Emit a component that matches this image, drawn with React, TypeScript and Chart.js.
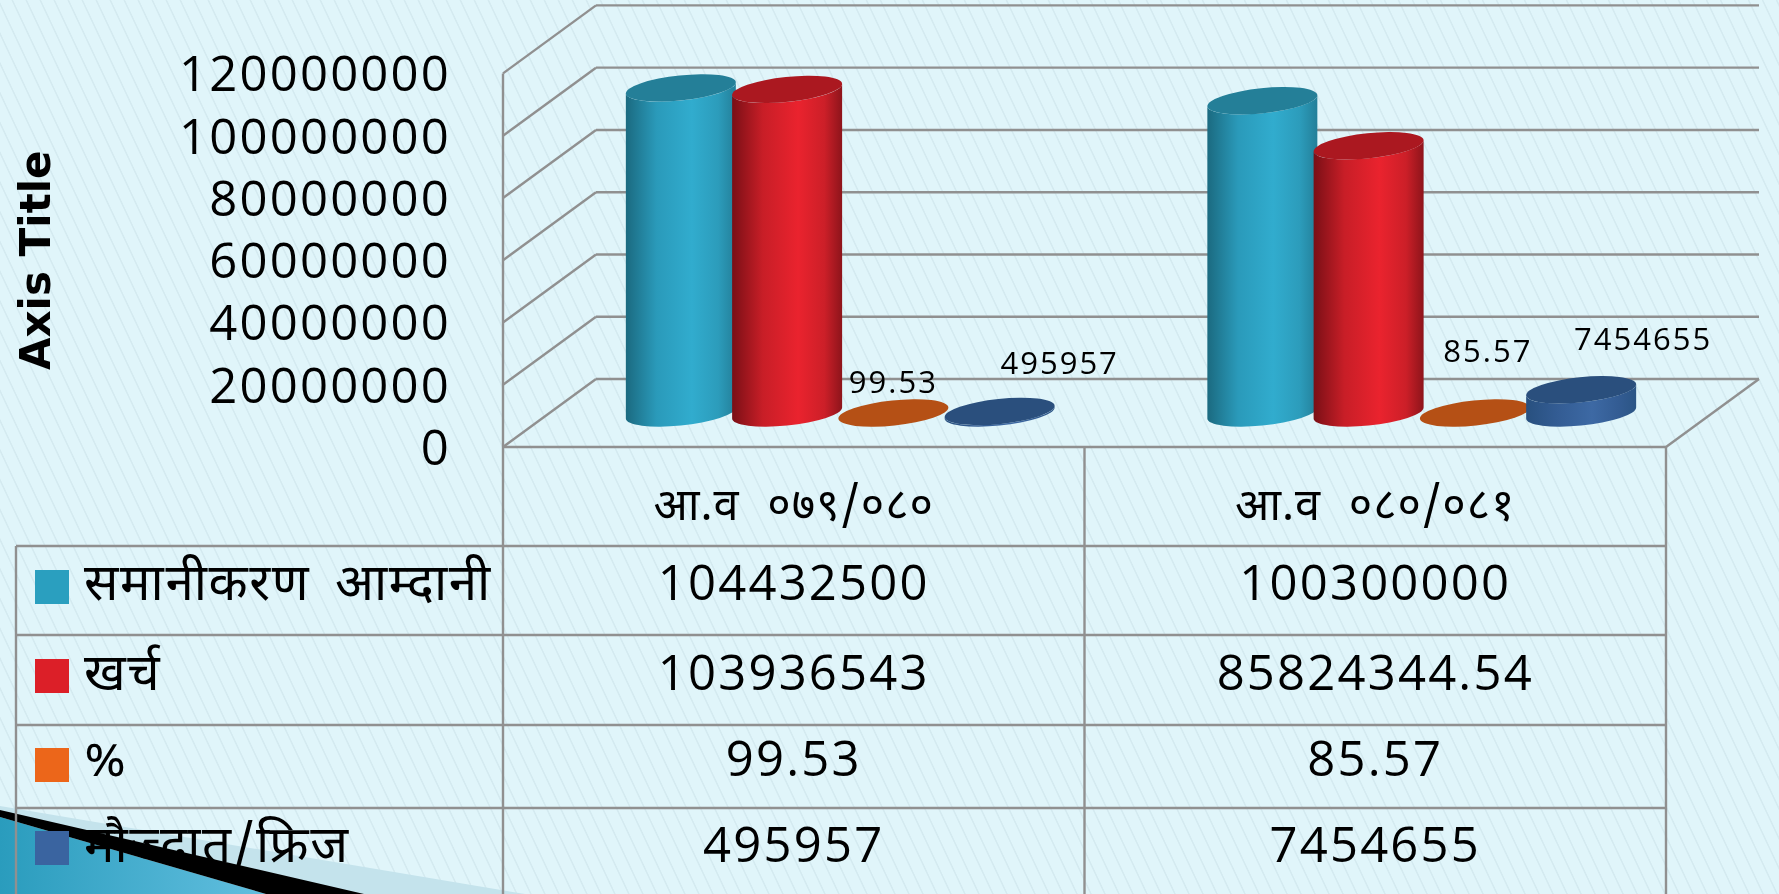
import React, { useEffect, useRef } from "react";
import { Chart, registerables } from "chart.js";

Chart.register(...registerables);

const categories = ["आ.व ०७९/०८०", "आ.व ०८०/०८१"];
const seriesNames = ["समानीकरण आम्दानी", "खर्च", "%", "मौज्दात/फ्रिज"];
const income = [104432500, 100300000];
const expense = [103936543, 85824344.54];
const percent = [99.53, 85.57];
const frozen = [495957, 7454655];
const allSeries = [income, expense, percent, frozen];
const swatchColors = ["#2a9fbf", "#dc1f28", "#ec661a", "#3a64a0"];

const TOKENS = [
  { stops: ["#1b6a80", "#2a9aba", "#31acce", "#2c9cbb", "#237f99"], cap: "#247f98" },
  { stops: ["#7a0f16", "#c81e27", "#ea232e", "#cc1f28", "#8d141b"], cap: "#ab1820" },
  { stops: ["#a84a13", "#b55015", "#b55015", "#b55015", "#a84a13"], cap: "#b55015" },
  { stops: ["#28507f", "#335c93", "#3d69a4", "#335c93", "#2b5585"], cap: "#2a4f7d" },
];

// manual label offsets, as placed in the source chart: [series][category] -> dx, dy from the top of the bar
const LABEL_NUDGE: Record<string, [number, number]> = {
  "2-0": [0, -29],
  "3-0": [60, -46],
  "2-1": [13, -60],
  "3-1": [62, -49],
};

const GRID = "#909090";
const DEPTH_X = 93;
const DEPTH_Y = 68;
const TILT = (6 * Math.PI) / 180;
const NUM_FONT = '"Open Sans", sans-serif';
const DEV_FONT = '"Noto Sans Devanagari", "Noto Sans", "Lohit Devanagari", "FreeSans", sans-serif';
const ROW_LINES = [546, 635, 725, 808];
const ROW_MID = [583, 673, 759, 845];
const SWATCH_TOP = [570, 659, 748, 831];
const HEAD_MID = 512;
const TABLE_LEFT = 16;

function line(ctx: CanvasRenderingContext2D, x1: number, y1: number, x2: number, y2: number) {
  ctx.beginPath();
  ctx.moveTo(x1, y1);
  ctx.lineTo(x2, y2);
  ctx.stroke();
}

function drawCylinder(
  ctx: CanvasRenderingContext2D,
  cx: number,
  topY: number,
  baseY: number,
  halfW: number,
  token: { stops: string[]; cap: string },
) {
  const ry = 12.5;
  const rx = Math.sqrt(Math.max(1, (halfW * halfW - ry * ry * Math.sin(TILT) ** 2) / Math.cos(TILT) ** 2));
  const ext = Math.atan2(-ry * Math.sin(-TILT), rx * Math.cos(TILT));
  if (baseY - topY > 1.5) {
    const g = ctx.createLinearGradient(cx - halfW, 0, cx + halfW, 0);
    [0, 0.28, 0.6, 0.84, 1].forEach((s, i) => g.addColorStop(s, token.stops[i]));
    ctx.fillStyle = g;
    ctx.beginPath();
    ctx.ellipse(cx, baseY, rx, ry, -TILT, ext, ext + Math.PI);
    ctx.ellipse(cx, topY, rx, ry, -TILT, ext + Math.PI, ext, true);
    ctx.closePath();
    ctx.fill();
  }
  ctx.fillStyle = token.cap;
  ctx.beginPath();
  ctx.ellipse(cx, topY, rx, ry, -TILT, 0, Math.PI * 2);
  ctx.fill();
}

const scenePlugin = {
  id: "scene",
  beforeDatasetsDraw(chart: any) {
    const ctx: CanvasRenderingContext2D = chart.ctx;
    const { left, right, bottom } = chart.chartArea;
    const y = chart.scales.y;
    ctx.save();
    ctx.strokeStyle = GRID;
    ctx.lineWidth = 2.4;
    y.ticks.forEach((t: any) => {
      const py = y.getPixelForValue(t.value);
      line(ctx, left, py, left + DEPTH_X, py - DEPTH_Y);
      line(ctx, left + DEPTH_X, py - DEPTH_Y, right + DEPTH_X, py - DEPTH_Y);
    });
    line(ctx, right, bottom, right + DEPTH_X, bottom - DEPTH_Y);
    line(ctx, left, y.getPixelForValue(y.max), left, bottom);
    ctx.restore();
  },
  beforeDatasetDraw() {
    return false;
  },
  afterDatasetsDraw(chart: any) {
    const ctx: CanvasRenderingContext2D = chart.ctx;
    const { left, right, bottom } = chart.chartArea;
    const xs = chart.scales.x;
    const H = chart.height;
    ctx.save();
    allSeries.forEach((_, si) => {
      chart.getDatasetMeta(si).data.forEach((el: any) => {
        const cx = el.x + DEPTH_X / 2;
        drawCylinder(ctx, cx, el.y - DEPTH_Y / 2, el.base - DEPTH_Y / 2, el.width / 2, TOKENS[si]);
      });
    });
    ctx.fillStyle = "#000";
    ctx.textAlign = "center";
    ctx.textBaseline = "middle";
    ctx.letterSpacing = "2px";
    ctx.font = `31px ${NUM_FONT}`;
    allSeries.forEach((vals, si) => {
      vals.forEach((v, ci) => {
        const n = LABEL_NUDGE[`${si}-${ci}`];
        if (!n) return;
        const el = chart.getDatasetMeta(si).data[ci];
        ctx.fillText(String(v), el.x + DEPTH_X / 2 + n[0], el.y - DEPTH_Y / 2 + n[1]);
      });
    });
    ctx.strokeStyle = GRID;
    ctx.lineWidth = 2.4;
    const edges = [left, (xs.getPixelForValue(0) + xs.getPixelForValue(1)) / 2, right];
    line(ctx, left, bottom, right, bottom);
    edges.forEach((x) => line(ctx, x, bottom, x, H));
    line(ctx, TABLE_LEFT, ROW_LINES[0], TABLE_LEFT, H);
    ROW_LINES.forEach((ry) => line(ctx, TABLE_LEFT, ry, right, ry));
    ctx.fillStyle = "#000";
    ctx.letterSpacing = "1px";
    (ctx as any).wordSpacing = "15px";
    ctx.font = `45px ${DEV_FONT}`;
    categories.forEach((c, i) => ctx.fillText(c, xs.getPixelForValue(i), HEAD_MID));
    (ctx as any).wordSpacing = "0px";
    ctx.letterSpacing = "2.2px";
    ctx.font = `49px ${NUM_FONT}`;
    allSeries.forEach((vals, si) => {
      vals.forEach((v, ci) => ctx.fillText(String(v), xs.getPixelForValue(ci), ROW_MID[si] + 3));
    });
    ctx.textAlign = "left";
    seriesNames.forEach((name, si) => {
      ctx.fillStyle = swatchColors[si];
      ctx.fillRect(35, SWATCH_TOP[si], 34, 34);
      ctx.fillStyle = "#000";
      ctx.letterSpacing = "1.6px";
      (ctx as any).wordSpacing = "10px";
      ctx.font = `51px ${DEV_FONT}`;
      ctx.fillText(name, 84, ROW_MID[si] + 7);
    });
    ctx.restore();
    // y tick labels are the next layer: spaced digits, optically centred on their gridline
    ctx.letterSpacing = "2.2px";
    ctx.translate(0, 4);
  },
  afterDraw(chart: any) {
    chart.ctx.letterSpacing = "0px";
    chart.ctx.translate(0, -4);
  },
};

export default function App() {
  const ref = useRef<HTMLCanvasElement>(null);
  useEffect(() => {
    const chart = new Chart(ref.current as HTMLCanvasElement, {
      type: "bar",
      data: {
        labels: categories,
        datasets: allSeries.map((data, i) => ({
          label: seriesNames[i],
          data,
          backgroundColor: swatchColors[i],
          categoryPercentage: 0.731,
          barPercentage: 1.035,
        })),
      },
      plugins: [scenePlugin],
      options: {
        animation: false,
        responsive: false,
        layout: { padding: { left: 14, right: 113, top: 66, bottom: 447 } },
        plugins: { legend: { display: false }, tooltip: { enabled: false }, title: { display: false } },
        scales: {
          x: { display: false },
          y: {
            min: 0,
            max: 120000000,
            afterFit: (s: any) => {
              s.width = 489;
            },
            grid: { display: false },
            border: { display: false },
            ticks: {
              z: 1,
              stepSize: 20000000,
              padding: 44,
              color: "#000",
              font: { family: NUM_FONT, size: 49 },
              callback: (v: any) => String(v),
            },
            title: {
              display: true,
              text: "Axis Title",
              color: "#000",
              padding: 0,
              font: { family: '"DejaVu Sans", sans-serif', size: 42, weight: "bold" },
            },
          },
        },
      } as any,
    });
    return () => chart.destroy();
  }, []);
  return (
    <div
      style={{
        position: "fixed",
        left: 0,
        top: 0,
        width: 1779,
        height: 894,
        overflow: "hidden",
        background:
          "repeating-linear-gradient(64.8deg, #e0f5fa 0px, #e0f5fa 10.4px, #d4eaf0 11.2px, #d4eaf0 12px, #e0f5fa 12.67px)",
      }}
    >
      <svg width={1779} height={894} style={{ position: "absolute", left: 0, top: 0 }}>
        <defs>
          <linearGradient id="corner" x1="0" y1="0" x2="1" y2="0">
            <stop offset="0" stopColor="#2a9cbd" />
            <stop offset="1" stopColor="#62bfdf" />
          </linearGradient>
        </defs>
        <polygon points="0,806 525,894 0,894" fill="#c4e3ec" />
        <polygon points="0,817 266,894 0,894" fill="url(#corner)" />
        <polygon points="0,810 364,894 266,894 0,817" fill="#000" />
      </svg>
      <canvas ref={ref} width={1779} height={894} style={{ position: "absolute", left: 0, top: 0, display: "block" }} />
    </div>
  );
}
